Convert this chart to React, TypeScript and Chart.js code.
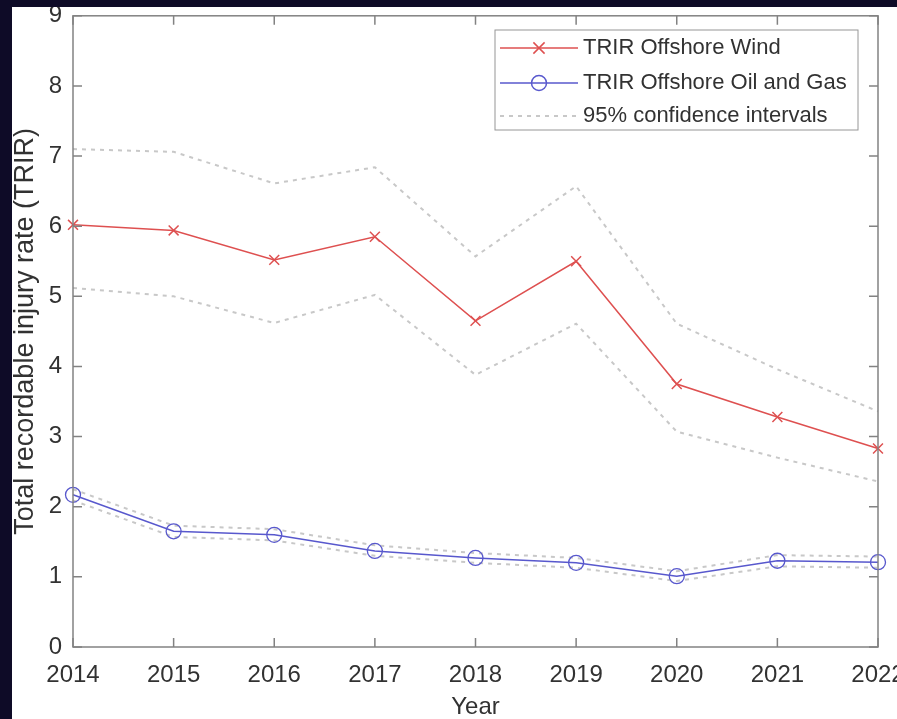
import React, { useEffect, useRef } from "react";
import { Chart, registerables } from "chart.js";

Chart.register(...registerables);

const years = [2014, 2015, 2016, 2017, 2018, 2019, 2020, 2021, 2022];
const windTRIR = [6.02, 5.94, 5.52, 5.85, 4.65, 5.5, 3.75, 3.28, 2.83];
const windUpper = [7.1, 7.06, 6.61, 6.84, 5.57, 6.57, 4.61, 3.96, 3.36];
const windLower = [5.12, 5.0, 4.62, 5.02, 3.88, 4.61, 3.07, 2.7, 2.36];
const ogTRIR = [2.17, 1.65, 1.6, 1.37, 1.27, 1.2, 1.01, 1.23, 1.21];
const ogUpper = [2.25, 1.73, 1.68, 1.45, 1.34, 1.27, 1.08, 1.31, 1.29];
const ogLower = [2.09, 1.57, 1.52, 1.3, 1.2, 1.13, 0.94, 1.15, 1.13];
const yTickValues = [0, 1, 2, 3, 4, 5, 6, 7, 8, 9];

const labelWind = "TRIR Offshore Wind";
const labelOG = "TRIR Offshore Oil and Gas";
const labelCI = "95% confidence intervals";

const RED = "rgb(222,80,80)";
const BLUE = "rgb(88,88,205)";
const CI = "rgb(200,200,200)";
const AXIS = "rgb(130,130,130)";
const TEXT = "rgb(50,50,50)";
const FONT = "'Liberation Sans', Arial, sans-serif";

const pts = (vals: number[]) => years.map((y, i) => ({ x: y, y: vals[i] }));

const boxPlugin = {
  id: "matlabBox",
  afterDatasetsDraw(chart: any) {
    const { ctx, chartArea: a, scales } = chart;
    ctx.save();
    ctx.strokeStyle = AXIS;
    ctx.lineWidth = 1.5;
    ctx.strokeRect(a.left, a.top, a.right - a.left, a.bottom - a.top);
    const tl = 9;
    ctx.beginPath();
    scales.x.ticks.forEach((t: any) => {
      const px = scales.x.getPixelForValue(t.value);
      ctx.moveTo(px, a.bottom);
      ctx.lineTo(px, a.bottom - tl);
      ctx.moveTo(px, a.top);
      ctx.lineTo(px, a.top + tl);
    });
    scales.y.ticks.forEach((t: any) => {
      const py = scales.y.getPixelForValue(t.value);
      ctx.moveTo(a.left, py);
      ctx.lineTo(a.left + tl, py);
      ctx.moveTo(a.right, py);
      ctx.lineTo(a.right - tl, py);
    });
    ctx.stroke();

    // legend
    const ds = chart.data.datasets;
    const bx = 483, by = 23, bw = 363, bh = 100;
    ctx.fillStyle = "#fff";
    ctx.fillRect(bx, by, bw, bh);
    ctx.strokeStyle = "rgb(150,150,150)";
    ctx.lineWidth = 1;
    ctx.strokeRect(bx, by, bw, bh);
    const rows = [
      { d: ds[0], label: labelWind, y: 41 },
      { d: ds[1], label: labelOG, y: 76 },
      { d: ds[2], label: labelCI, y: 109 },
    ];
    ctx.font = `22px ${FONT}`;
    ctx.textBaseline = "middle";
    ctx.textAlign = "left";
    rows.forEach((r) => {
      ctx.save();
      ctx.strokeStyle = r.d.borderColor;
      ctx.lineWidth = r.d.borderWidth;
      ctx.setLineDash(r.d.borderDash || []);
      ctx.beginPath();
      ctx.moveTo(488, r.y);
      ctx.lineTo(566, r.y);
      ctx.stroke();
      ctx.restore();
      if (r.d.pointRadius > 0) {
        ctx.save();
        ctx.strokeStyle = r.d.borderColor;
        ctx.lineWidth = 1.5;
        ctx.beginPath();
        const cx = 527, rr = r.d.pointRadius;
        if (r.d.pointStyle === "crossRot") {
          const k = rr * 0.8;
          ctx.moveTo(cx - k, r.y - k);
          ctx.lineTo(cx + k, r.y + k);
          ctx.moveTo(cx + k, r.y - k);
          ctx.lineTo(cx - k, r.y + k);
        } else {
          ctx.arc(cx, r.y, rr, 0, Math.PI * 2);
        }
        ctx.stroke();
        ctx.restore();
      }
      ctx.fillStyle = TEXT;
      ctx.fillText(r.label, 571, r.y);
    });
    ctx.restore();
  },
};

export default function App() {
  const ref = useRef<HTMLCanvasElement>(null);
  useEffect(() => {
    if (!ref.current) return;
    const ciBase = {
      borderColor: CI,
      borderWidth: 2,
      borderDash: [4, 5],
      pointRadius: 0,
      fill: false,
      clip: false as any,
    };
    const chart = new Chart(ref.current, {
      type: "line",
      data: {
        datasets: [
          {
            label: labelWind,
            data: pts(windTRIR),
            borderColor: RED,
            borderWidth: 1.5,
            pointStyle: "crossRot",
            pointRadius: 7,
            pointBorderColor: RED,
            pointBorderWidth: 1.5,
            pointBackgroundColor: "transparent",
            clip: false as any,
          },
          {
            label: labelOG,
            data: pts(ogTRIR),
            borderColor: BLUE,
            borderWidth: 1.5,
            pointStyle: "circle",
            pointRadius: 7.5,
            pointBorderColor: BLUE,
            pointBorderWidth: 1.3,
            pointBackgroundColor: "transparent",
            clip: false as any,
          },
          { label: labelCI, data: pts(windUpper), ...ciBase },
          { label: labelCI, data: pts(windLower), ...ciBase },
          { label: labelCI, data: pts(ogUpper), ...ciBase },
          { label: labelCI, data: pts(ogLower), ...ciBase },
        ] as any,
      },
      options: {
        animation: false,
        responsive: false,
        maintainAspectRatio: false,
        layout: { padding: { top: 6, right: 19, left: 0, bottom: 0 } },
        plugins: { legend: { display: false }, tooltip: { enabled: false } },
        elements: { line: { tension: 0 } },
        scales: {
          x: {
            type: "linear",
            min: 2014,
            max: 2022,
            grid: { display: false, drawTicks: false },
            border: { display: false },
            ticks: {
              stepSize: 1,
              color: TEXT,
              font: { family: FONT, size: 24 },
              padding: 14,
              maxRotation: 0,
              autoSkip: false,
              callback: (v: any) => String(v),
            },
            title: {
              display: true,
              text: "Year",
              color: TEXT,
              font: { family: FONT, size: 24, lineHeight: 1 },
              padding: 0,
            },
            afterFit: (s: any) => {
              s.height = 72;
              s.paddingLeft = 0;
              s.paddingRight = 0;
            },
          },
          y: {
            min: 0,
            max: 9,
            afterBuildTicks: (s: any) => {
              s.ticks = yTickValues.map((v) => ({ value: v }));
            },
            grid: { display: false, drawTicks: false },
            border: { display: false },
            ticks: {
              color: TEXT,
              font: { family: FONT, size: 24 },
              padding: 11,
            },
            title: {
              display: true,
              text: "Total recordable injury rate (TRIR)",
              color: TEXT,
              font: { family: FONT, size: 27, lineHeight: 1 },
              padding: 0,
            },
            afterFit: (s: any) => {
              s.width = 61;
              s.paddingTop = 0;
              s.paddingBottom = 0;
            },
          },
        },
      },
      plugins: [boxPlugin],
    });
    return () => chart.destroy();
  }, []);

  return (
    <div style={{ position: "fixed", left: 0, top: 0, width: 897, height: 719, background: "#0e0b27", overflow: "hidden" }}>
      <div style={{ position: "absolute", left: 12, top: 7, width: 885, height: 712, background: "#fff" }}>
        <canvas ref={ref} width={885} height={712} style={{ display: "block", width: 885, height: 712 }} />
      </div>
    </div>
  );
}
